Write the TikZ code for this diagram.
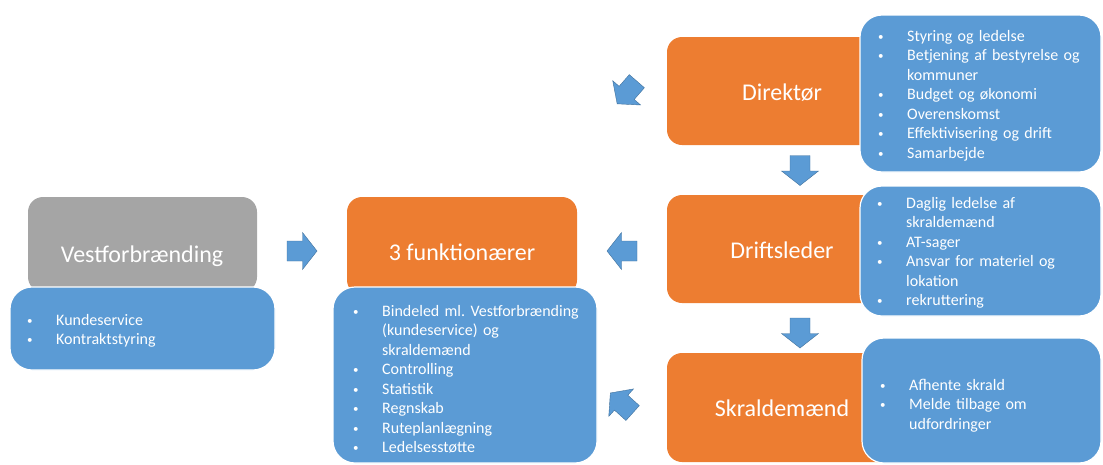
\documentclass[tikz,border=0pt]{standalone}
\usepackage{fontspec}
\setmainfont{Carlito}

\definecolor{boxorange}{HTML}{ED7D31}
\definecolor{boxblue}{HTML}{5B9BD5}
\definecolor{boxgray}{HTML}{A5A5A5}
\definecolor{arrowedge}{HTML}{41719C}

\newcommand{\bitem}[1]{\noindent\hangindent=29pt\hangafter=1\makebox[29pt][l]{\raisebox{1pt}{\fontsize{11}{11}\selectfont\textbullet}}#1\par}

\tikzset{
    headbox/.style={fill=boxorange, rounded corners=15pt},
    listbox/.style={fill=boxblue, draw=white, line width=1.2pt, rounded corners=22pt},
    titletext/.style={text=white, font=\fontsize{24}{28}\selectfont, inner sep=0pt},
    listtext/.style={text=white, font=\fontsize{16}{19.5}\selectfont, text width=250pt, align=left, inner sep=0pt},
    pics/blockpil/.style={code={
        \filldraw[fill=boxblue, draw=arrowedge, line width=0.4pt]
            (-15,-10) -- (0.5,-10) -- (0.5,-18.5) -- (15,0) -- (0.5,18.5) -- (0.5,10) -- (-15,10) -- cycle;
    }}
}

\begin{document}
\begin{tikzpicture}[x=1pt,y=-1pt]
    \useasboundingbox (0,0) rectangle (1103,464);
    % kasser
    \fill[headbox, fill=boxgray] (28,197) rectangle (257,292);
    \fill[headbox] (347,197) rectangle (577,295);
    \fill[headbox] (667,37) rectangle (897,145);
    \fill[headbox] (667,195) rectangle (897,303);
    \fill[headbox] (667,353) rectangle (897,462);
    \draw[listbox] (10,287) rectangle (275,370);
    \draw[listbox] (333,287) rectangle (597,463);
    \draw[listbox] (860,15) rectangle (1101,172);
    \draw[listbox] (860,186) rectangle (1101,316);
    \draw[listbox] (862,338) rectangle (1101,463);
    % titler
    \node[titletext, anchor=base] (vest) at (142,262) {Vestforbrænding};
    \node[titletext, anchor=base] (funk) at (462,260) {3 funktionærer};
    \node[titletext, anchor=base] (direk) at (782,100) {Direktør};
    \node[titletext, anchor=base] (drift) at (782,258) {Driftsleder};
    \node[titletext, anchor=base] (skrald) at (782,416) {Skraldemænd};
    % lister
    \node[listtext, anchor=base west] (vestlist) at (27,325) {%
        \bitem{Kundeservice}
        \bitem{Kontraktstyring}};
    \node[listtext, anchor=base west] (funklist) at (353,316) {%
        \bitem{Bindeled ml.\ Vestforbrænding\newline(kundeservice) og\newline skraldemænd}
        \bitem{Controlling}
        \bitem{Statistik}
        \bitem{Regnskab}
        \bitem{Ruteplanlægning}
        \bitem{Ledelsesstøtte}};
    \node[listtext, anchor=base west] (direklist) at (878,41) {%
        \bitem{Styring og ledelse}
        \bitem{Betjening af bestyrelse og\newline kommuner}
        \bitem{Budget og økonomi}
        \bitem{Overenskomst}
        \bitem{Effektivisering og drift}
        \bitem{Samarbejde}};
    \node[listtext, anchor=base west] (driftlist) at (877,208) {%
        \bitem{Daglig ledelse af\newline skraldemænd}
        \bitem{AT-sager}
        \bitem{Ansvar for materiel og\newline lokation}
        \bitem{rekruttering}};
    \node[listtext, anchor=base west] (skraldlist) at (880,390) {%
        \bitem{Afhente skrald}
        \bitem{Melde tilbage om\newline udfordringer}};
    % pile
    \pic (vest2funk) at (302,251) {blockpil};
    \pic[rotate=180] (drift2funk) at (622,251) {blockpil};
    \pic[rotate=270] (direk2drift) at (800,170.5) {blockpil};
    \pic[rotate=270] (drift2skrald) at (800,333) {blockpil};
    \pic[rotate=229] (direkpil) at (627,92.5) {blockpil};
    \pic[rotate=138] (skraldpil) at (621.5,403) {blockpil};
\end{tikzpicture}
\end{document}
